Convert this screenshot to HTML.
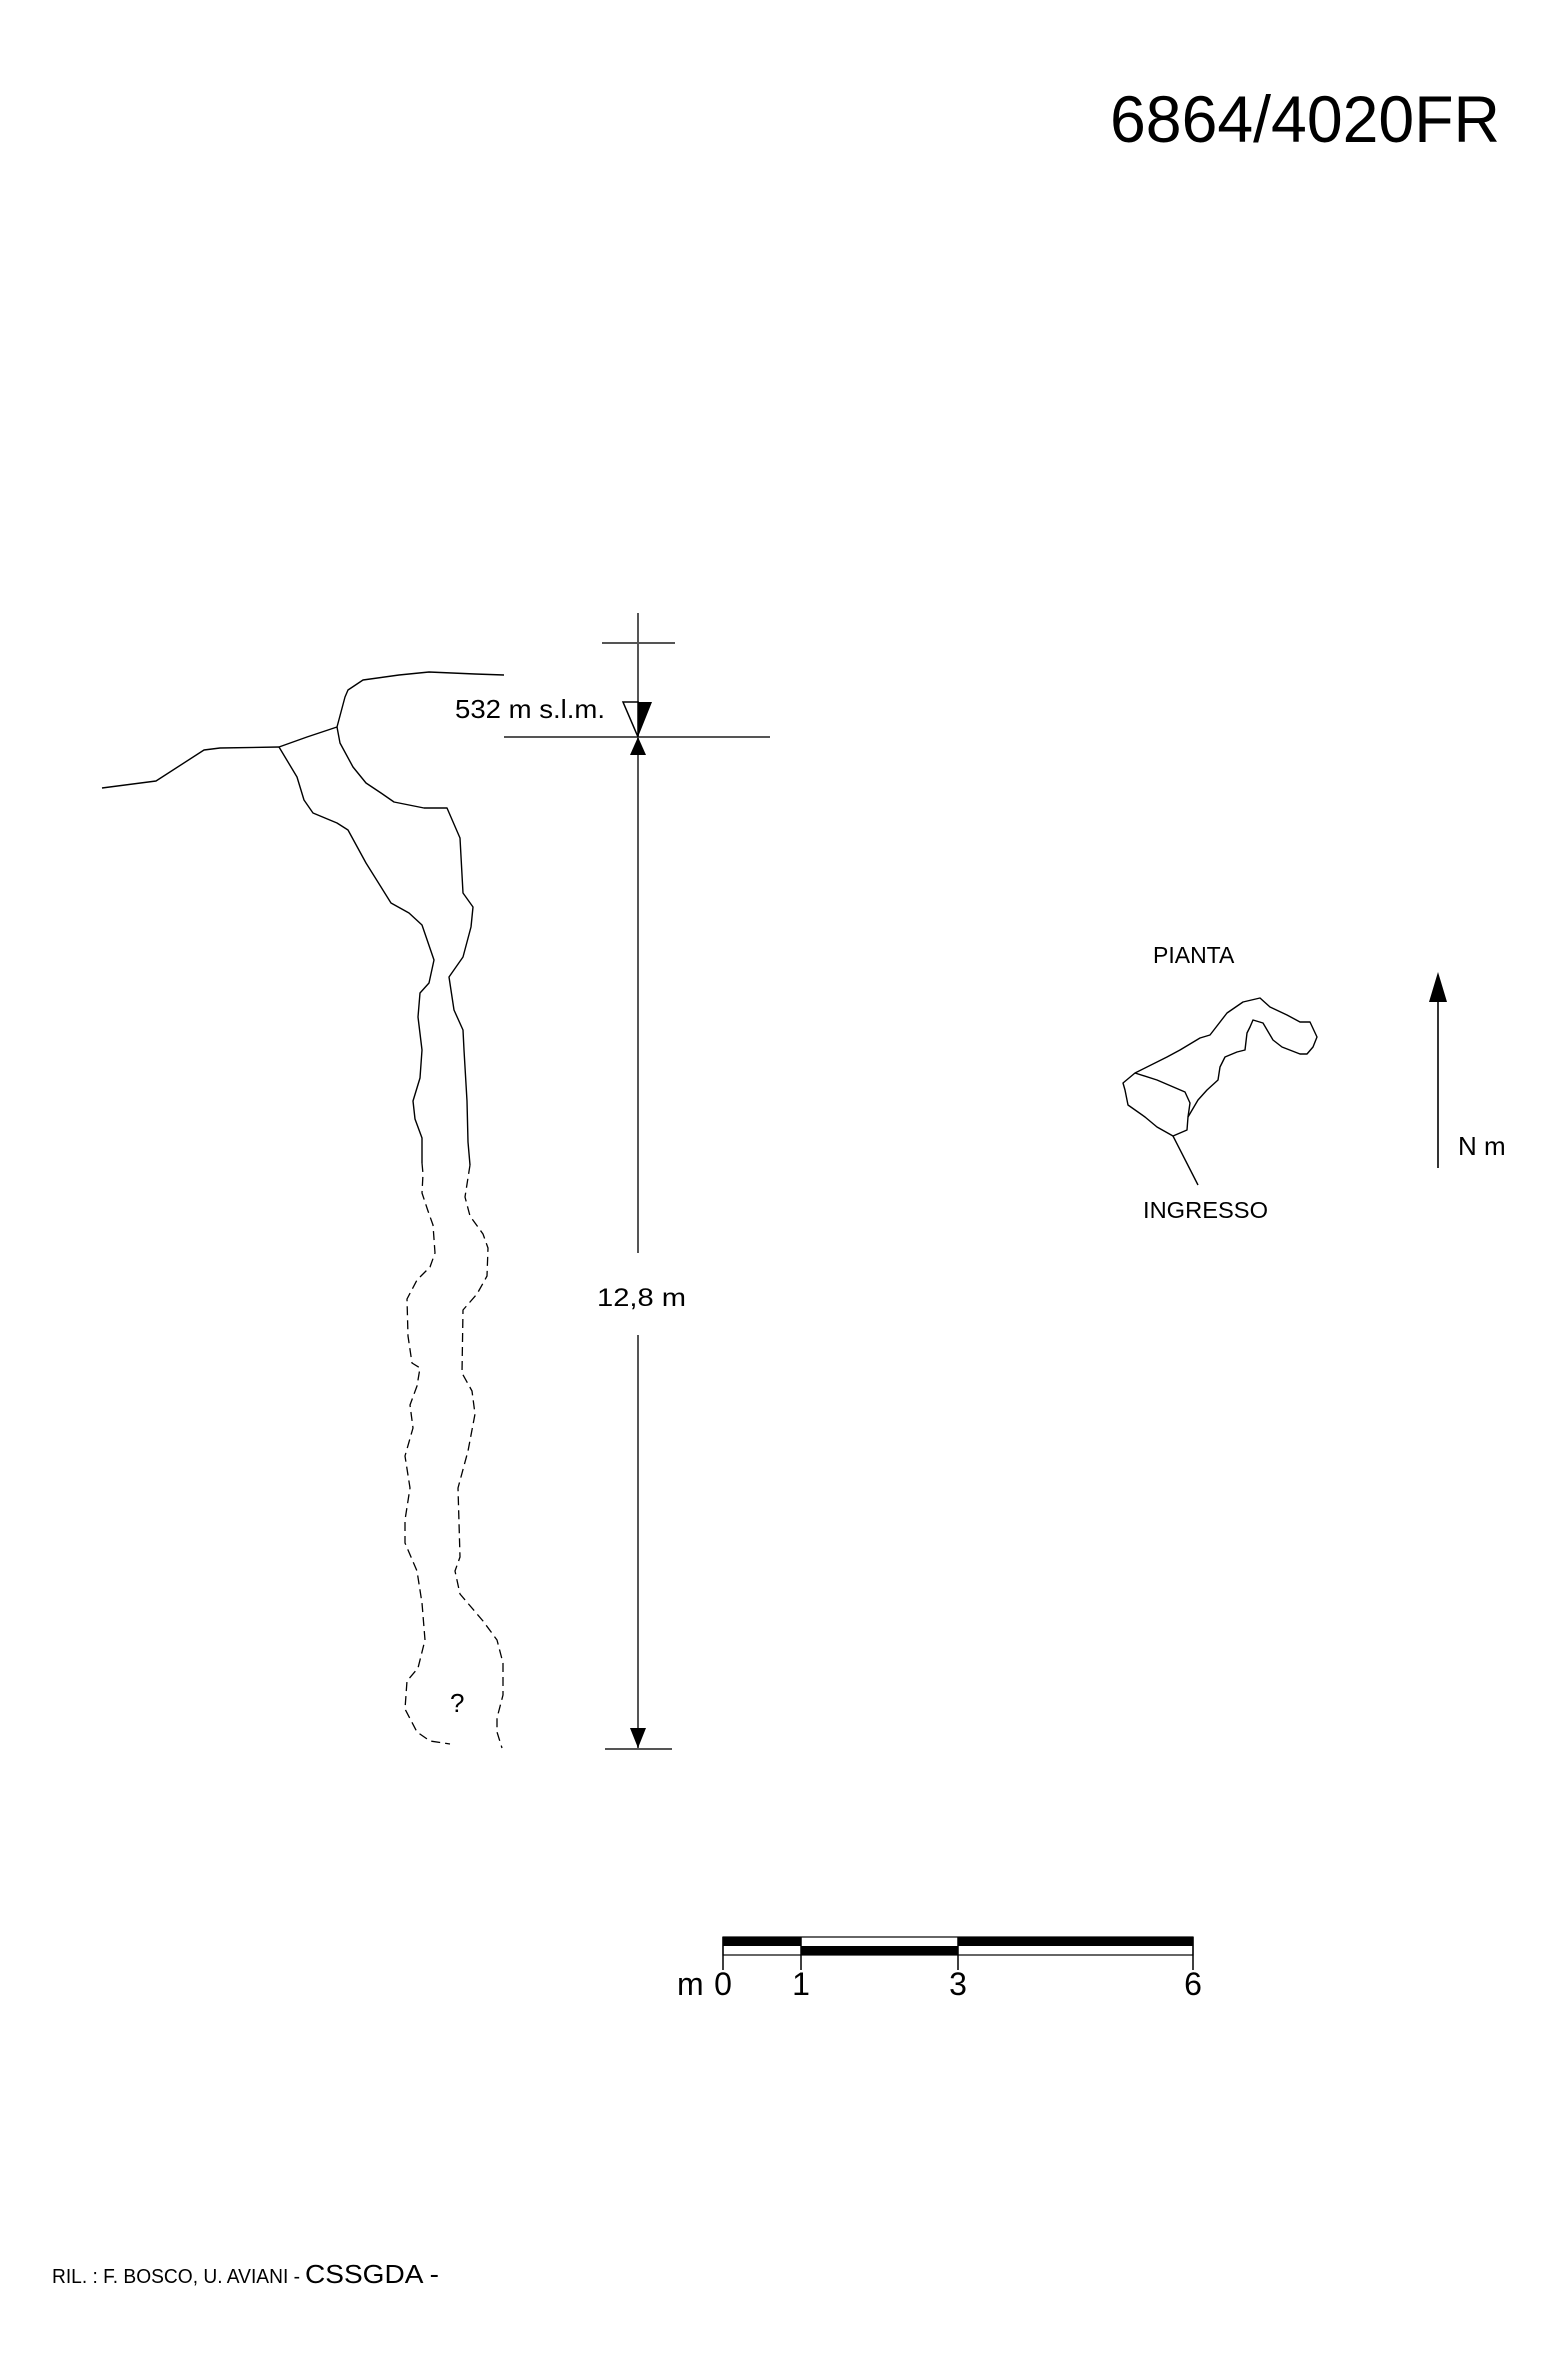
<!DOCTYPE html>
<html><head><meta charset="utf-8"><style>
html,body{margin:0;padding:0;background:#fff;}
svg{display:block;}
text{font-family:"Liberation Sans",sans-serif;fill:#000;}
</style></head><body>
<svg width="1567" height="2354" viewBox="0 0 1567 2354" xmlns="http://www.w3.org/2000/svg">
<rect width="1567" height="2354" fill="#fff"/>
<text x="1110" y="142" font-size="66" textLength="390" lengthAdjust="spacingAndGlyphs">6864/4020FR</text>

<!-- dimension line -->
<g stroke="#555" stroke-width="2" fill="none">
<line x1="638" y1="613" x2="638" y2="1253"/>
<line x1="638" y1="1335" x2="638" y2="1748"/>
<line x1="602" y1="643" x2="675" y2="643"/>
<line x1="504" y1="737" x2="770" y2="737"/>
<line x1="605" y1="1749" x2="672" y2="1749"/>
</g>
<polygon points="623,702 638,702 638,737" fill="#fff" stroke="#000" stroke-width="1.5"/>
<polygon points="638,702 652,702 638,737" fill="#000"/>
<polygon points="638,737 630,755 646,755" fill="#000"/>
<polygon points="638,1748 630,1728 646,1728" fill="#000"/>
<text x="455" y="718" font-size="26" textLength="150" lengthAdjust="spacingAndGlyphs">532 m s.l.m.</text>
<text x="597" y="1306" font-size="25" textLength="89" lengthAdjust="spacingAndGlyphs">12,8 m</text>

<!-- cave section -->
<g stroke="#000" stroke-width="1.4" fill="none" stroke-linejoin="round">
<polyline points="102,788 156,781 204,750 220,748 279,747 307,737 322,732 337,727 345,697 348,690 363,680 399,675 429,672 475,674 504,675"/>
<polyline points="279,747 297,777 304,800 313,813 337,823 348,830 366,863 391,903 409,913 422,925 434,960 429,983 420,993 418,1017 422,1050 420,1078 413,1101 415,1119 422,1138 422,1163"/>
<polyline points="337,727 340,743 353,767 366,783 381,793 394,802 424,808 447,808 460,838 463,893 473,907 471,927 463,957 449,977 454,1010 463,1030 464,1050 467,1101 468,1142 470,1165"/>
<g stroke-dasharray="9,5" stroke-width="1.3">
<polyline points="422,1163 423,1174 422,1193 428,1211 433,1225 435,1253 430,1267 417,1280 407,1299 408,1336 412,1363 420,1368 417,1386 410,1405 413,1428 405,1456 410,1488 405,1520 405,1543 417,1571 422,1603 425,1640 418,1668 407,1681 405,1709 417,1732 430,1741 450,1744"/>
<polyline points="470,1165 465,1197 470,1216 483,1234 488,1248 487,1276 477,1294 463,1310 462,1373 472,1391 475,1414 468,1451 458,1488 460,1557 455,1571 460,1594 483,1621 497,1640 503,1663 503,1695 497,1718 497,1732 502,1748"/>
</g>
</g>
<text x="450" y="1712" font-size="26">?</text>

<!-- plan -->
<text x="1153" y="963" font-size="23">PIANTA</text>
<g stroke="#000" stroke-width="1.4" fill="none" stroke-linejoin="round">
<polygon points="1135,1073 1167,1057 1180,1050 1200,1038 1210,1035 1227,1013 1243,1002 1260,998 1270,1007 1287,1015 1300,1022 1310,1022 1317,1037 1313,1047 1307,1054 1300,1054 1282,1047 1273,1040 1263,1023 1253,1020 1250,1027 1247,1033 1245,1050 1237,1052 1225,1057 1220,1067 1218,1080 1207,1090 1198,1100 1188,1117 1187,1130 1173,1136 1157,1127 1145,1117 1128,1105 1125,1090 1123,1083"/>
<polyline points="1135,1073 1157,1080 1185,1092 1190,1103 1188,1117"/>
<line x1="1173" y1="1136" x2="1198" y2="1185"/>
</g>
<text x="1143" y="1218" font-size="23" textLength="125" lengthAdjust="spacingAndGlyphs">INGRESSO</text>
<line x1="1438" y1="1000" x2="1438" y2="1168" stroke="#000" stroke-width="1.6"/>
<polygon points="1438,972 1429,1002 1447,1002" fill="#000"/>
<text x="1458" y="1155" font-size="26">N m</text>

<!-- scale bar -->
<g>
<rect x="723" y="1937" width="78" height="9" fill="#000"/>
<rect x="958" y="1937" width="235" height="9" fill="#000"/>
<rect x="801" y="1946" width="157" height="9" fill="#000"/>
<rect x="723" y="1937" width="470" height="18" fill="none" stroke="#000" stroke-width="1.2"/>
<g stroke="#000" stroke-width="1.5">
<line x1="723" y1="1937" x2="723" y2="1970"/>
<line x1="801" y1="1937" x2="801" y2="1970"/>
<line x1="958" y1="1937" x2="958" y2="1970"/>
<line x1="1193" y1="1937" x2="1193" y2="1970"/>
</g>
<text x="677" y="1995" font-size="32">m</text>
<text x="723" y="1995" font-size="32" text-anchor="middle">0</text>
<text x="801" y="1995" font-size="32" text-anchor="middle">1</text>
<text x="958" y="1995" font-size="32" text-anchor="middle">3</text>
<text x="1193" y="1995" font-size="32" text-anchor="middle">6</text>
</g>

<text x="52" y="2283" font-size="20" textLength="248" lengthAdjust="spacingAndGlyphs">RIL. : F. BOSCO, U. AVIANI -</text>
<text x="305" y="2283" font-size="26" textLength="134" lengthAdjust="spacingAndGlyphs">CSSGDA -</text>
</svg>
</body></html>
